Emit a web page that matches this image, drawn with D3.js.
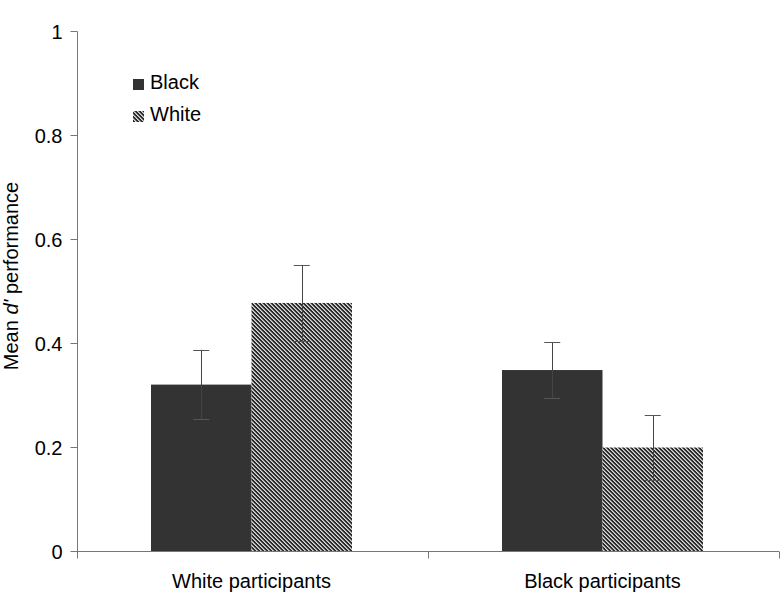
<!DOCTYPE html>
<html>
<head>
<meta charset="utf-8">
<script src="https://cdn.jsdelivr.net/npm/d3@7/dist/d3.min.js"></script>
<style>
  body { margin: 0; background: #fff; }
  text { font-family: "Liberation Sans", Arial, sans-serif; fill: #000; }
</style>
</head>
<body>
<div id="chart"></div>
<script>
// data
var categories = ["White participants", "Black participants"];
var series = ["Black", "White"];
var blackMeans = [0.32, 0.348];
var blackErr = [0.067, 0.054];
var whiteMeans = [0.477, 0.199];
var whiteErr = [0.073, 0.062];
var yTicks = [0, 0.2, 0.4, 0.6, 0.8, 1];

// set the dimensions and margins of the graph
var margin = {top: 31, right: 1, bottom: 49, left: 77},
    width = 780 - margin.left - margin.right,
    height = 600 - margin.top - margin.bottom;

var svg = d3.select("#chart").append("svg")
    .attr("width", 780)
    .attr("height", 600);

// hatch pattern for the "White" series (pixel diagonal stripes)
var defs = svg.append("defs");
var pat = defs.append("pattern")
    .attr("id", "hatch")
    .attr("patternUnits", "userSpaceOnUse")
    .attr("width", 4)
    .attr("height", 4);
pat.append("rect").attr("width", 4).attr("height", 4).attr("fill", "#2b2b2b");
[0, 1, 2, 3].forEach(function(i) {
  pat.append("rect").attr("x", i).attr("y", i).attr("width", 1).attr("height", 1)
     .attr("fill", "#d8d8d8").attr("shape-rendering", "crispEdges");
  pat.append("rect").attr("x", (i + 1) % 4).attr("y", i).attr("width", 1).attr("height", 1)
     .attr("fill", "#9a9a9a").attr("shape-rendering", "crispEdges");
});

var g = svg.append("g")
    .attr("transform", "translate(" + margin.left + "," + margin.top + ")");

// scales
var x0 = d3.scaleBand().domain(categories).range([0, width]).paddingInner(0).paddingOuter(0);
var x1 = d3.scaleBand().domain(series).range([74, 275]);
var y = d3.scaleLinear().domain([0, 1]).range([height, 0]);

var rows = categories.map(function(c, i) {
  return [
    {cat: c, key: "Black", v: blackMeans[i], e: blackErr[i]},
    {cat: c, key: "White", v: whiteMeans[i], e: whiteErr[i]}
  ];
});

// bars
var groups = g.selectAll(".grp")
    .data(rows)
  .enter().append("g")
    .attr("class", "grp")
    .attr("transform", function(d) { return "translate(" + x0(d[0].cat) + ",0)"; });

groups.selectAll("rect")
    .data(function(d) { return d; })
  .enter().append("rect")
    .attr("x", function(d) { return x1(d.key); })
    .attr("y", function(d) { return y(d.v); })
    .attr("width", x1.bandwidth())
    .attr("height", function(d) { return height - y(d.v); })
    .attr("fill", function(d) { return d.key == "Black" ? "#333333" : "url(#hatch)"; });

// error bars
var eb = groups.selectAll(".err")
    .data(function(d) { return d; })
  .enter().append("g")
    .attr("class", "err");
eb.append("line")
    .attr("x1", function(d) { return Math.round(x1(d.key) + x1.bandwidth() / 2) + 0.5; })
    .attr("x2", function(d) { return Math.round(x1(d.key) + x1.bandwidth() / 2) + 0.5; })
    .attr("y1", function(d) { return y(d.v + d.e); })
    .attr("y2", function(d) { return y(d.v - d.e); })
    .attr("stroke", "#444")
    .attr("stroke-width", 1);
eb.selectAll(".cap")
    .data(function(d) { return [d.v + d.e, d.v - d.e].map(function(v) { return {key: d.key, v: v}; }); })
  .enter().append("line")
    .attr("class", "cap")
    .attr("x1", function(d) { return x1(d.key) + x1.bandwidth() / 2 - 8; })
    .attr("x2", function(d) { return x1(d.key) + x1.bandwidth() / 2 + 8; })
    .attr("y1", function(d) { return Math.round(y(d.v)) + 0.5; })
    .attr("y2", function(d) { return Math.round(y(d.v)) + 0.5; })
    .attr("stroke", "#555")
    .attr("stroke-width", 1);

// y axis
var yAxis = g.append("g")
    .attr("transform", "translate(0.5,0)")
    .call(d3.axisLeft(y).tickValues(yTicks).tickSize(7).tickPadding(8)
      .tickFormat(function(d) { return d3.format("")(d); }));
yAxis.select(".domain").attr("stroke", "#777").attr("d", "M0," + (height + 0.5) + "V0.5");
yAxis.selectAll(".tick line").attr("stroke", "#777");
yAxis.selectAll(".tick text").style("font-size", "20px").attr("dy", "0.36em");

// x axis: boundary ticks between categories
var xEdges = [0, width / 2, width];
var xAxis = g.append("g").attr("transform", "translate(0," + (height + 0.5) + ")");
xAxis.append("line").attr("x1", 0).attr("x2", width).attr("stroke", "#777");
xAxis.selectAll(".edge").data(xEdges)
  .enter().append("line")
    .attr("x1", function(d) { return Math.round(d) + 0.5; })
    .attr("x2", function(d) { return Math.round(d) + 0.5; })
    .attr("y1", 0).attr("y2", 7)
    .attr("stroke", "#777");
xAxis.selectAll(".lbl").data(categories)
  .enter().append("text")
    .attr("x", function(d) { return x0(d) + x1.range()[0] + (x1.range()[1] - x1.range()[0]) / 2; })
    .attr("y", 36)
    .style("text-anchor", "middle")
    .style("font-size", "20px")
    .text(function(d) { return d; });

// y axis label
var yl = svg.append("text")
    .attr("transform", "translate(18,276) rotate(-90)")
    .style("text-anchor", "middle")
    .style("font-size", "20px");
yl.append("tspan").text("Mean ");
yl.append("tspan").style("font-style", "italic").text("d'");
yl.append("tspan").text(" performance");

// legend
var legend = svg.append("g").attr("transform", "translate(133,79)");
var li = legend.selectAll(".li").data(series)
  .enter().append("g")
    .attr("transform", function(d, i) { return "translate(0," + (i * 32) + ")"; });
li.append("rect")
    .attr("width", 11).attr("height", 11)
    .attr("fill", function(d) { return d == "Black" ? "#333333" : "url(#hatch)"; });
li.append("text")
    .attr("x", 17).attr("y", 10)
    .style("font-size", "20px")
    .text(function(d) { return d; });
</script>
</body>
</html>
